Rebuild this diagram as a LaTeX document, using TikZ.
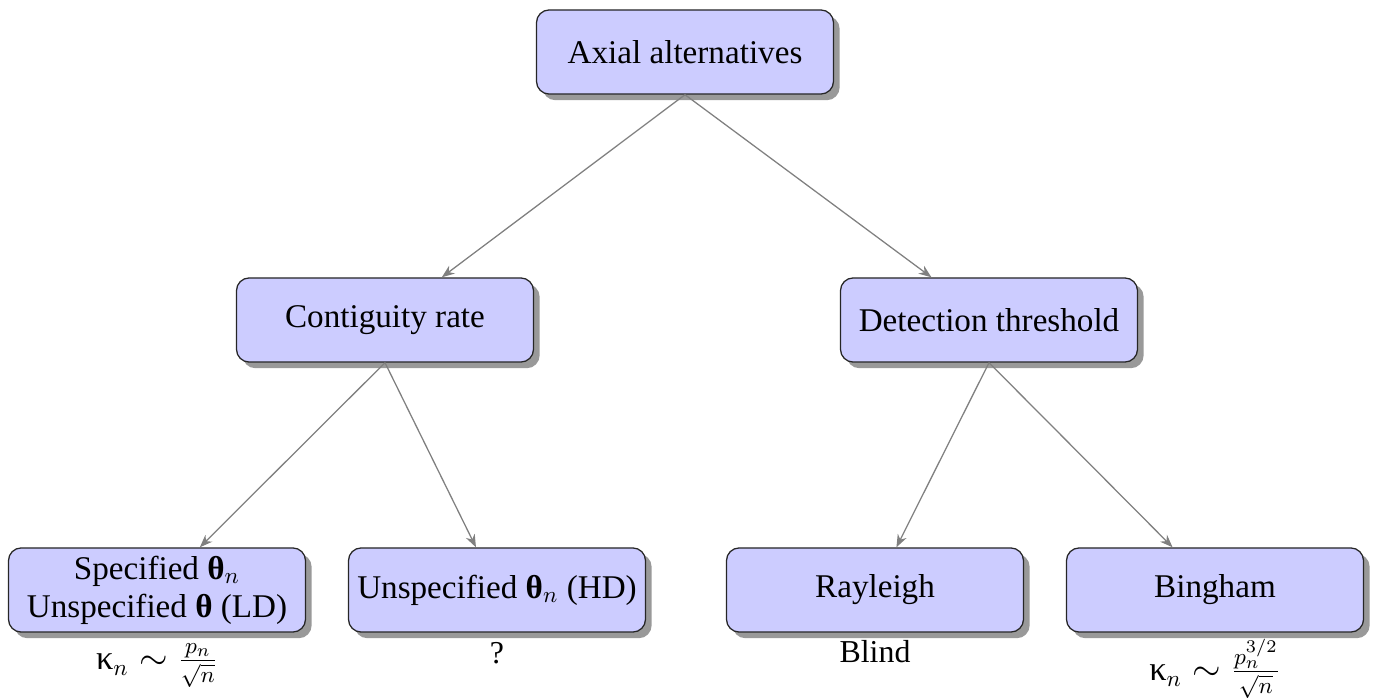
\documentclass[tikz,border=0pt]{standalone}
\usepackage{amsmath}
\usepackage{fontspec}
\setmainfont{Liberation Serif}
\usetikzlibrary{shadows,arrows.meta}
\newcommand{\bth}{\mbox{\textbf{θ}}}
\newcommand{\kap}{\mbox{κ}}
\tikzset{
  box/.style={draw=black!85, line width=0.5pt, fill=blue!20, rounded corners=5pt,
    minimum width=116.5pt, minimum height=33pt, align=center, inner sep=2pt,
    font=\fontsize{13}{15}\selectfont,
    drop shadow={shadow xshift=2.4pt, shadow yshift=-2.4pt, fill=black, opacity=0.4}},
  arr/.style={draw=black!50, line width=0.5pt, -{Stealth[length=5pt,width=3.8pt,inset=1.6pt]}},
  lab/.style={inner sep=0pt, font=\fontsize{12.5}{14}\selectfont},
  mlab/.style={inner sep=0pt, font=\fontsize{13.5}{15}\selectfont}
}
\begin{document}
\begin{tikzpicture}[x=0.3922pt,y=-0.3922pt]
\useasboundingbox (0,0) rectangle (1382,700);
\node[box] (top) at (685,52) {Axial alternatives};
\node[box] (cont) at (385,320) {Contiguity rate};
\node[box] (det) at (989,320) {Detection threshold};
\node[box] (spec) at (157,590) {Specified $\bth_n$\\ Unspecified $\bth$ (LD)};
\node[box] (unsp) at (497,590) {Unspecified $\bth_n$\ (HD)};
\node[box] (ray) at (875,590) {Rayleigh};
\node[box] (bing) at (1215,590) {Bingham};
\draw[arr] (top.south) -- (cont);
\draw[arr] (top.south) -- (det);
\draw[arr] (cont.south) -- (spec);
\draw[arr] (cont.south) -- (unsp);
\draw[arr] (det.south) -- (ray);
\draw[arr] (det.south) -- (bing);
\node[mlab] (l1) at (157,666) {$\kap_n \sim \frac{p_n}{\sqrt{n}}$};
\node[lab] (l2) at (497,653) {?};
\node[lab] (l3) at (875,652) {Blind};
\node[mlab] (l4) at (1215,669) {$\kap_n \sim \frac{p_n^{3/2}}{\sqrt{n}}$};
\end{tikzpicture}
\end{document}
